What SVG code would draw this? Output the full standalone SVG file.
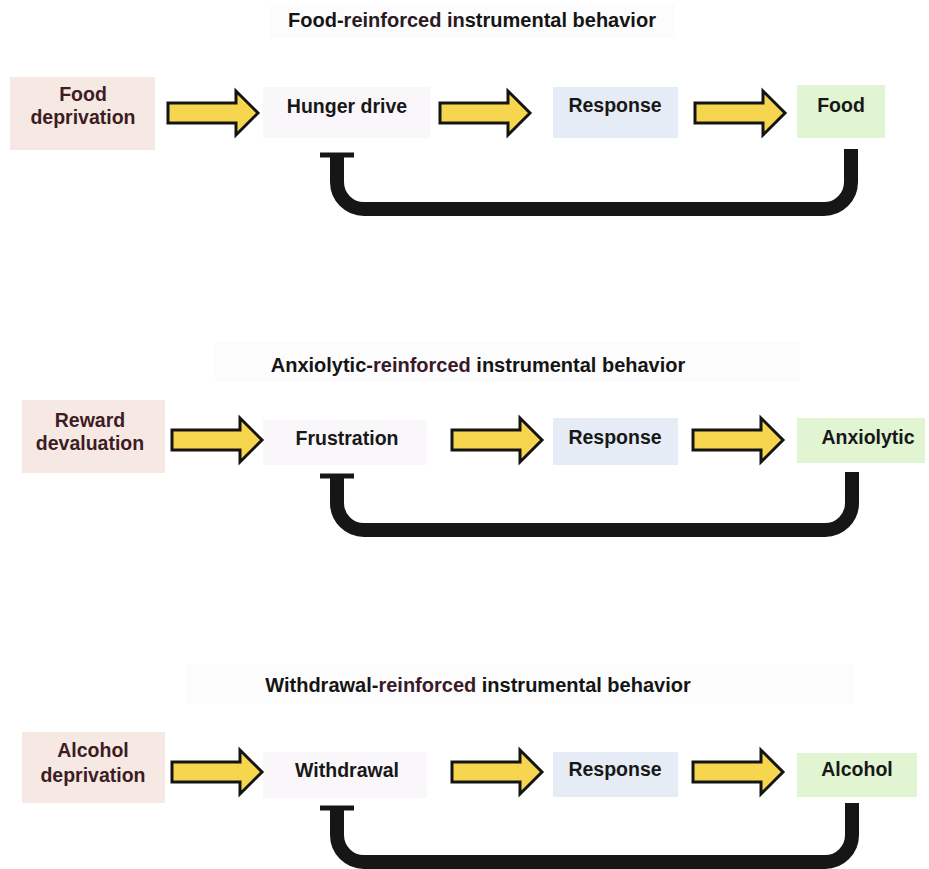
<svg xmlns="http://www.w3.org/2000/svg" width="929" height="869" viewBox="0 0 929 869">
<style>
.title{font-family:"Liberation Sans",Arial,sans-serif;font-weight:bold;font-size:20px;fill:#151515;text-anchor:middle}
.lbl{font-family:"Liberation Sans",Arial,sans-serif;font-weight:bold;font-size:19.5px;fill:#181818;text-anchor:middle}
.lbl.src{fill:#3d1c24}
.src-box{fill:#f6e9e4}
.state-box{fill:#faf7fa}
.resp-box{fill:#e5ecf6}
.out-box{fill:#e1f5d3}
.tbg{fill:#fcfcfd}
.arrow{fill:#f6d64e;stroke:#141414;stroke-width:3;stroke-linejoin:miter}
.fb{fill:none;stroke:#161616;stroke-width:14;stroke-linecap:butt}
.tbar{stroke:#161616;stroke-width:5}
</style>
<defs>
<path id="arr" class="arrow" d="M0,-10 H68 V-22 L90,0 L68,22 V10 H0 Z"/>
</defs>
<rect width="929" height="869" fill="#ffffff"/>

<!-- Panel 1 -->
<g id="title1"><rect class="tbg" x="270" y="4" width="405" height="34"/><text class="title" x="472" y="27">Food-<tspan fill="#2a1a24">reinforced in</tspan>strumental behavior</text></g>
<g id="food-deprivation"><rect class="src-box" x="10" y="77" width="145" height="73"/><text class="lbl src" x="83" y="101">Food</text><text class="lbl src" x="83" y="124">deprivation</text></g>
<g id="hunger-drive"><rect class="state-box" x="263" y="87" width="167" height="51"/><text class="lbl" x="347" y="113">Hunger drive</text></g>
<g id="response1"><rect class="resp-box" x="553" y="87" width="125" height="51"/><text class="lbl" x="615" y="112">Response</text></g>
<g id="food"><rect class="out-box" x="797" y="85" width="88" height="53"/><text class="lbl" x="841" y="112">Food</text></g>

<!-- Panel 2 -->
<g id="title2"><rect class="tbg" x="215" y="342" width="585" height="40"/><text class="title" x="478" y="372">Anxiolytic-<tspan fill="#3a1a28">reinforced</tspan> instrumental behavior</text></g>
<g id="reward-devaluation"><rect class="src-box" x="22" y="400" width="143" height="73"/><text class="lbl src" x="90" y="427">Reward</text><text class="lbl src" x="90" y="450">devaluation</text></g>
<g id="frustration"><rect class="state-box" x="263" y="420" width="164" height="45"/><text class="lbl" x="347" y="445">Frustration</text></g>
<g id="response2"><rect class="resp-box" x="553" y="418" width="125" height="47"/><text class="lbl" x="615" y="444">Response</text></g>
<g id="anxiolytic"><rect class="out-box" x="797" y="418" width="128" height="45"/><text class="lbl" x="868" y="444">Anxiolytic</text></g>

<!-- Panel 3 -->
<g id="title3"><rect class="tbg" x="185" y="664" width="670" height="40"/><text class="title" x="478" y="692">Withdrawal-<tspan fill="#3a1a28">reinforced</tspan> instrumental behavior</text></g>
<g id="alcohol-deprivation"><rect class="src-box" x="22" y="732" width="143" height="71"/><text class="lbl src" x="93" y="757">Alcohol</text><text class="lbl src" x="93" y="782">deprivation</text></g>
<g id="withdrawal"><rect class="state-box" x="263" y="752" width="164" height="46"/><text class="lbl" x="347" y="777">Withdrawal</text></g>
<g id="response3"><rect class="resp-box" x="553" y="752" width="125" height="45"/><text class="lbl" x="615" y="776">Response</text></g>
<g id="alcohol"><rect class="out-box" x="797" y="753" width="120" height="44"/><text class="lbl" x="857" y="776">Alcohol</text></g>

<g id="connectors">
<use href="#arr" transform="translate(168,113)"/>
<use href="#arr" transform="translate(440,113)"/>
<use href="#arr" transform="translate(695,113)"/>
<path class="fb" d="M337,157 V182 A27,27 0 0 0 364,209 H824 A27,27 0 0 0 851,182 V149"/>
<line class="tbar" x1="320" y1="155" x2="354" y2="155"/>

<use href="#arr" transform="translate(172,440)"/>
<use href="#arr" transform="translate(452,440)"/>
<use href="#arr" transform="translate(693,440)"/>
<path class="fb" d="M337,477 V503 A27,27 0 0 0 364,530 H825 A27,27 0 0 0 852,503 V472"/>
<line class="tbar" x1="320" y1="476" x2="354" y2="476"/>

<use href="#arr" transform="translate(172,772)"/>
<use href="#arr" transform="translate(452,772)"/>
<use href="#arr" transform="translate(693,772)"/>
<path class="fb" d="M337,809 V835 A27,27 0 0 0 364,862 H825 A27,27 0 0 0 852,835 V803"/>
<line class="tbar" x1="320" y1="808" x2="354" y2="808"/>
</g>
</svg>
